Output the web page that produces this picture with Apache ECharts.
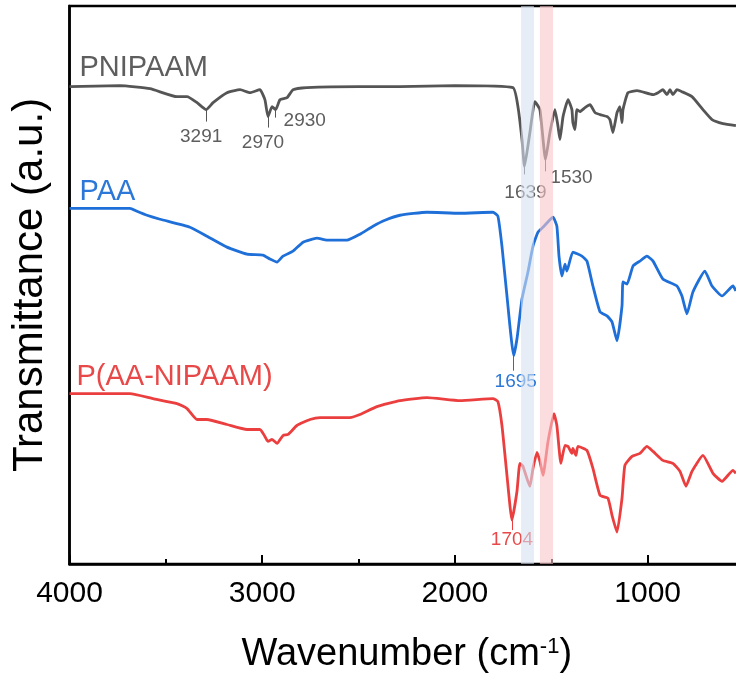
<!DOCTYPE html>
<html>
<head>
<meta charset="utf-8">
<title>FTIR</title>
<script src="https://cdn.jsdelivr.net/npm/echarts@6/dist/echarts.min.js"></script>
<style>
  html, body { margin: 0; padding: 0; background: #fff; overflow: hidden; }
  /* the frame runs a few px past the right edge of the window, as in the figure */
  #chart { width: 744px; height: 679px; }
</style>
</head>
<body>
<div id="chart"></div>
<script>
// spectra: [wavenumber, transmittance (a.u., stacked)]
var pnipaamData = [[4000,479],[3738,480],[3582,477],[3442,469],[3390,469],[3338,463],[3291,456],[3255,463],[3183,473],[3115,476],[3063,473],[3012,476],[2986,466],[2970,449],[2949,459],[2930,456],[2908,466],[2871,468],[2840,476],[2768,478],[2500,479],[2285,479],[2000,480],[1699,478],[1673,459],[1652,426],[1639,399],[1611,433],[1585,464],[1559,456],[1530,406],[1507,433],[1481,456],[1465,439],[1455,426],[1439,449],[1413,466],[1393,456],[1388,443],[1377,436],[1367,456],[1351,454],[1325,458],[1299,461],[1273,453],[1247,451],[1211,449],[1196,446],[1180,433],[1159,453],[1144,459],[1133,443],[1128,456],[1102,473],[1055,475],[972,471],[946,473],[921,476],[900,471],[884,476],[869,471],[848,476],[822,474],[770,469],[713,456],[666,446],[609,442],[542,440]];
var paaData = [[4000,357],[3686,357],[3650,354],[3598,350],[3530,346],[3375,338],[3287,329],[3183,318],[3079,311],[2996,310],[2960,306],[2923,303],[2892,309],[2840,314],[2788,323],[2716,327],[2664,325],[2560,325],[2493,331],[2425,339],[2363,345],[2285,350],[2145,353],[1974,352],[1803,353],[1777,349],[1756,319],[1730,269],[1695,209],[1678,226],[1652,266],[1621,293],[1595,319],[1569,333],[1543,338],[1491,348],[1471,339],[1460,309],[1445,289],[1429,301],[1419,294],[1388,313],[1341,309],[1315,304],[1284,279],[1247,253],[1211,249],[1185,243],[1159,224],[1133,259],[1128,283],[1107,281],[1076,299],[1040,304],[1004,309],[972,304],[921,286],[848,279],[822,269],[796,251],[765,273],[703,294],[666,279],[614,269],[557,279],[542,274]];
var copolymerData = [[4000,171],[3686,171],[3567,166],[3442,161],[3390,156],[3338,145],[3287,145],[3183,140],[3079,135],[3012,135],[2986,128],[2970,123],[2949,125],[2923,121],[2892,129],[2866,130],[2820,139],[2752,145],[2700,147],[2545,147],[2493,150],[2405,158],[2285,164],[2145,167],[1974,164],[1803,166],[1777,163],[1756,139],[1730,89],[1704,44],[1678,73],[1663,101],[1647,98],[1611,78],[1595,96],[1574,112],[1559,103],[1543,89],[1517,123],[1486,151],[1471,139],[1450,101],[1429,119],[1413,118],[1393,111],[1388,116],[1372,109],[1362,118],[1315,114],[1284,96],[1247,69],[1206,66],[1185,49],[1159,32],[1133,66],[1118,99],[1081,108],[1040,111],[1004,118],[972,113],[921,104],[869,101],[832,93],[801,78],[770,93],[713,109],[661,91],[614,83],[557,94],[542,91]];

var seriesNames = ['PNIPAAM', 'PAA', 'P(AA-NIPAAM)'];
var pnipaamPeaks = [3291, 2970, 2930, 1639, 1530];
var paaPeaks = [1695];
var copolymerPeaks = [1704];
var bands = [[1657, 1590], [1559, 1491]];
var majorTicks = [1000, 2000, 3000, 4000];
var minorTicks = [1500, 2500, 3500];

var lineColors = ['#555555', '#1f6fd9', '#eb3f3f'];
var textColors = ['#5e5e5e', '#2b78d8', '#e94848'];
var bandColors = ['rgba(213,225,240,0.6)', 'rgba(249,198,203,0.6)'];
var font = '"Liberation Sans", Arial, sans-serif';

// tick length under each peak and where its number sits (px from the peak)
var peakLayout = {
    3291: {len: 12, offset: [-5, 27]},
    2970: {len: 11, offset: [-5, 26]},
    2930: {len: 8, offset: [29, 11]},
    1639: {len: 8, offset: [1, 26]},
    1530: {len: 12, offset: [26, 18]},
    1695: {len: 15, offset: [2, 26]},
    1704: {len: 10, offset: [0, 20]}
};
var nameOffsets = [[10, -19], [10, -16], [7, -17]];

function valueAt(data, wn) {
    for (var i = 0; i < data.length; i++) {
        if (data[i][0] === wn) return data[i][1];
    }
    return null;
}

function makeSeries(idx, data, peaks) {
    var lines = [];
    var points = [{
        coord: data[0],
        value: seriesNames[idx],
        label: {
            formatter: seriesNames[idx],
            fontSize: 29,
            align: 'left',
            offset: nameOffsets[idx]
        }
    }];
    peaks.forEach(function (wn) {
        var v = valueAt(data, wn);
        var p = peakLayout[wn];
        lines.push([{coord: [wn, v]}, {coord: [wn, v - p.len]}]);
        points.push({coord: [wn, v], value: wn, label: {offset: p.offset}});
    });
    return {
        name: seriesNames[idx],
        type: 'line',
        data: data,
        showSymbol: false,
        smooth: 0.15,
        lineStyle: {color: lineColors[idx], width: 2.8},
        itemStyle: {color: lineColors[idx]},
        markLine: {
            silent: true,
            symbol: 'none',
            animation: false,
            label: {show: false},
            lineStyle: {color: lineColors[idx], width: 1, type: 'solid'},
            data: lines
        },
        markPoint: {
            silent: true,
            symbolSize: 0,
            animation: false,
            label: {
                show: true,
                position: 'inside',
                color: textColors[idx],
                fontSize: 19,
                fontFamily: font,
                formatter: '{c}'
            },
            data: points
        }
    };
}

var chart = echarts.init(document.getElementById('chart'));

var series = [
    makeSeries(0, pnipaamData, pnipaamPeaks),
    makeSeries(1, paaData, paaPeaks),
    makeSeries(2, copolymerData, copolymerPeaks),
    {
        // shaded bands drawn over the curves
        type: 'line',
        data: [],
        z: 10,
        markArea: {
            silent: true,
            z: 10,
            animation: false,
            data: bands.map(function (b, i) {
                return [{xAxis: b[0], itemStyle: {color: bandColors[i]}}, {xAxis: b[1]}];
            })
        }
    }
];

chart.setOption({
    animation: false,
    textStyle: {fontFamily: font},
    grid: {
        left: 69.5,
        right: 0,
        top: 6,
        bottom: 113,
        show: true,
        borderColor: '#000',
        borderWidth: 2.5
    },
    xAxis: [
        {
            type: 'value',
            inverse: true,
            min: 500,
            max: 4000,
            name: '{n|Wavenumber (cm}{s|-1}{n|)}',
            nameLocation: 'middle',
            nameGap: 72,
            nameTextStyle: {
                rich: {
                    n: {fontSize: 38, color: '#000', fontFamily: font},
                    s: {fontSize: 22, color: '#000', fontFamily: font, verticalAlign: 'top', padding: [0, 0, 16, 0]}
                }
            },
            axisLine: {lineStyle: {color: '#000', width: 2.5}},
            axisTick: {inside: true, length: 9, customValues: majorTicks, lineStyle: {color: '#000', width: 2}},
            axisLabel: {
                customValues: majorTicks,
                fontSize: 30,
                color: '#000',
                margin: 15,
                formatter: function (v) { return String(v); }
            },
            splitLine: {show: false}
        },
        {
            // minor ticks
            type: 'value',
            inverse: true,
            min: 500,
            max: 4000,
            position: 'bottom',
            axisLine: {show: false},
            axisTick: {inside: true, length: 5, customValues: minorTicks, lineStyle: {color: '#000', width: 2}},
            axisLabel: {show: false},
            splitLine: {show: false}
        }
    ],
    yAxis: {
        type: 'value',
        min: 0,
        max: 560,
        name: 'Transmittance (a.u.)',
        nameLocation: 'middle',
        nameGap: 18,
        nameTextStyle: {fontSize: 42, color: '#000'},
        axisLine: {show: true, lineStyle: {color: '#000', width: 2.5}},
        axisTick: {show: false},
        axisLabel: {show: false},
        splitLine: {show: false}
    },
    series: series
});
</script>
</body>
</html>
